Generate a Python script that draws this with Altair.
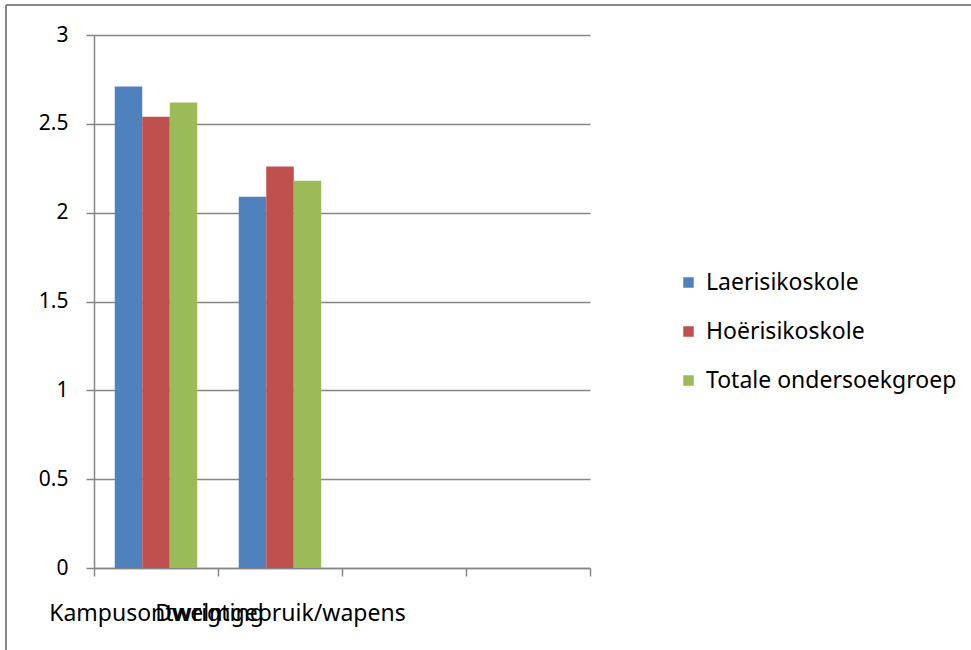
import altair as alt
import pandas as pd

# Category bands on the x axis (the last two are empty slots)
categories = ["Kampusontwrigting", "Dwelmgebruik/wapens", " ", "  "]
series = ["Laerisikoskole", "Hoërisikoskole", "Totale ondersoekgroep"]
colors = ["#4F81BD", "#C0504D", "#9BBB59"]

# Mean scores per school group
laerisiko = [2.71, 2.09]
hoerisiko = [2.54, 2.26]
totaal = [2.62, 2.18]

rows = []
for i, cat in enumerate(categories[:2]):
    for s, vals in zip(series, [laerisiko, hoerisiko, totaal]):
        rows.append({"kategorie": cat, "groep": s, "waarde": vals[i]})
df = pd.DataFrame(rows)

FONT = "Noto Sans"
GRID = "#868686"
PLOT_W, PLOT_H = 496, 533

bars = alt.Chart(df).mark_bar().encode(
    x=alt.X(
        "kategorie:N",
        scale=alt.Scale(domain=categories, paddingInner=0, paddingOuter=0),
        sort=categories,
        axis=alt.Axis(
            title=None,
            labelAngle=0,
            labelOverlap=False,
            labelLimit=0,
            labelFont=FONT,
            labelFontSize=23,
            labelColor="#000000",
            labelPadding=26,
            tickBand="extent",
            tickSize=8,
            tickColor=GRID,
            tickWidth=1.5,
            domainColor=GRID,
            domainWidth=1.5,
            grid=False,
        ),
    ),
    xOffset=alt.XOffset(
        "groep:N",
        sort=series,
        scale=alt.Scale(domain=series, paddingOuter=0.755, paddingInner=0),
    ),
    y=alt.Y(
        "waarde:Q",
        scale=alt.Scale(domain=[0, 3], nice=False),
        axis=alt.Axis(
            title=None,
            values=[0, 0.5, 1, 1.5, 2, 2.5, 3],
            format=".1~f",
            labelFont=FONT,
            labelFontSize=21,
            labelColor="#000000",
            labelPadding=18,
            tickSize=8,
            tickColor=GRID,
            tickWidth=1.5,
            domainColor=GRID,
            domainWidth=1.5,
            grid=True,
            gridColor=GRID,
            gridWidth=1.5,
        ),
    ),
    color=alt.Color(
        "groep:N",
        sort=series,
        scale=alt.Scale(domain=series, range=colors),
        legend=alt.Legend(
            title=None,
            orient="none",
            legendX=583,
            legendY=236,
            symbolType="square",
            symbolSize=110,
            symbolStrokeWidth=0,
            labelFont=FONT,
            labelFontSize=23,
            labelLimit=0,
            labelColor="#000000",
            labelOffset=6,
            rowPadding=25,
        ),
    ),
)

# Outer frame of the chart (top and left edges)
frame_top = alt.Chart(df).mark_rule(color="#878787", strokeWidth=2).encode(
    x=alt.value(-88), x2=alt.value(900), y=alt.value(-30)
)
frame_left = alt.Chart(df).mark_rule(color="#878787", strokeWidth=2).encode(
    x=alt.value(-88), y=alt.value(-30), y2=alt.value(640)
)

chart = (
    alt.layer(bars, frame_top, frame_left)
    .properties(
        width=PLOT_W,
        height=PLOT_H,
        autosize=alt.AutoSizeParams(type="none"),
        padding={"left": 94, "top": 35, "right": 381, "bottom": 82},
        background="#FFFFFF",
    )
    .configure_view(stroke="transparent")
)

chart.save("out.html", embed_options={"renderer": "svg", "actions": False})
